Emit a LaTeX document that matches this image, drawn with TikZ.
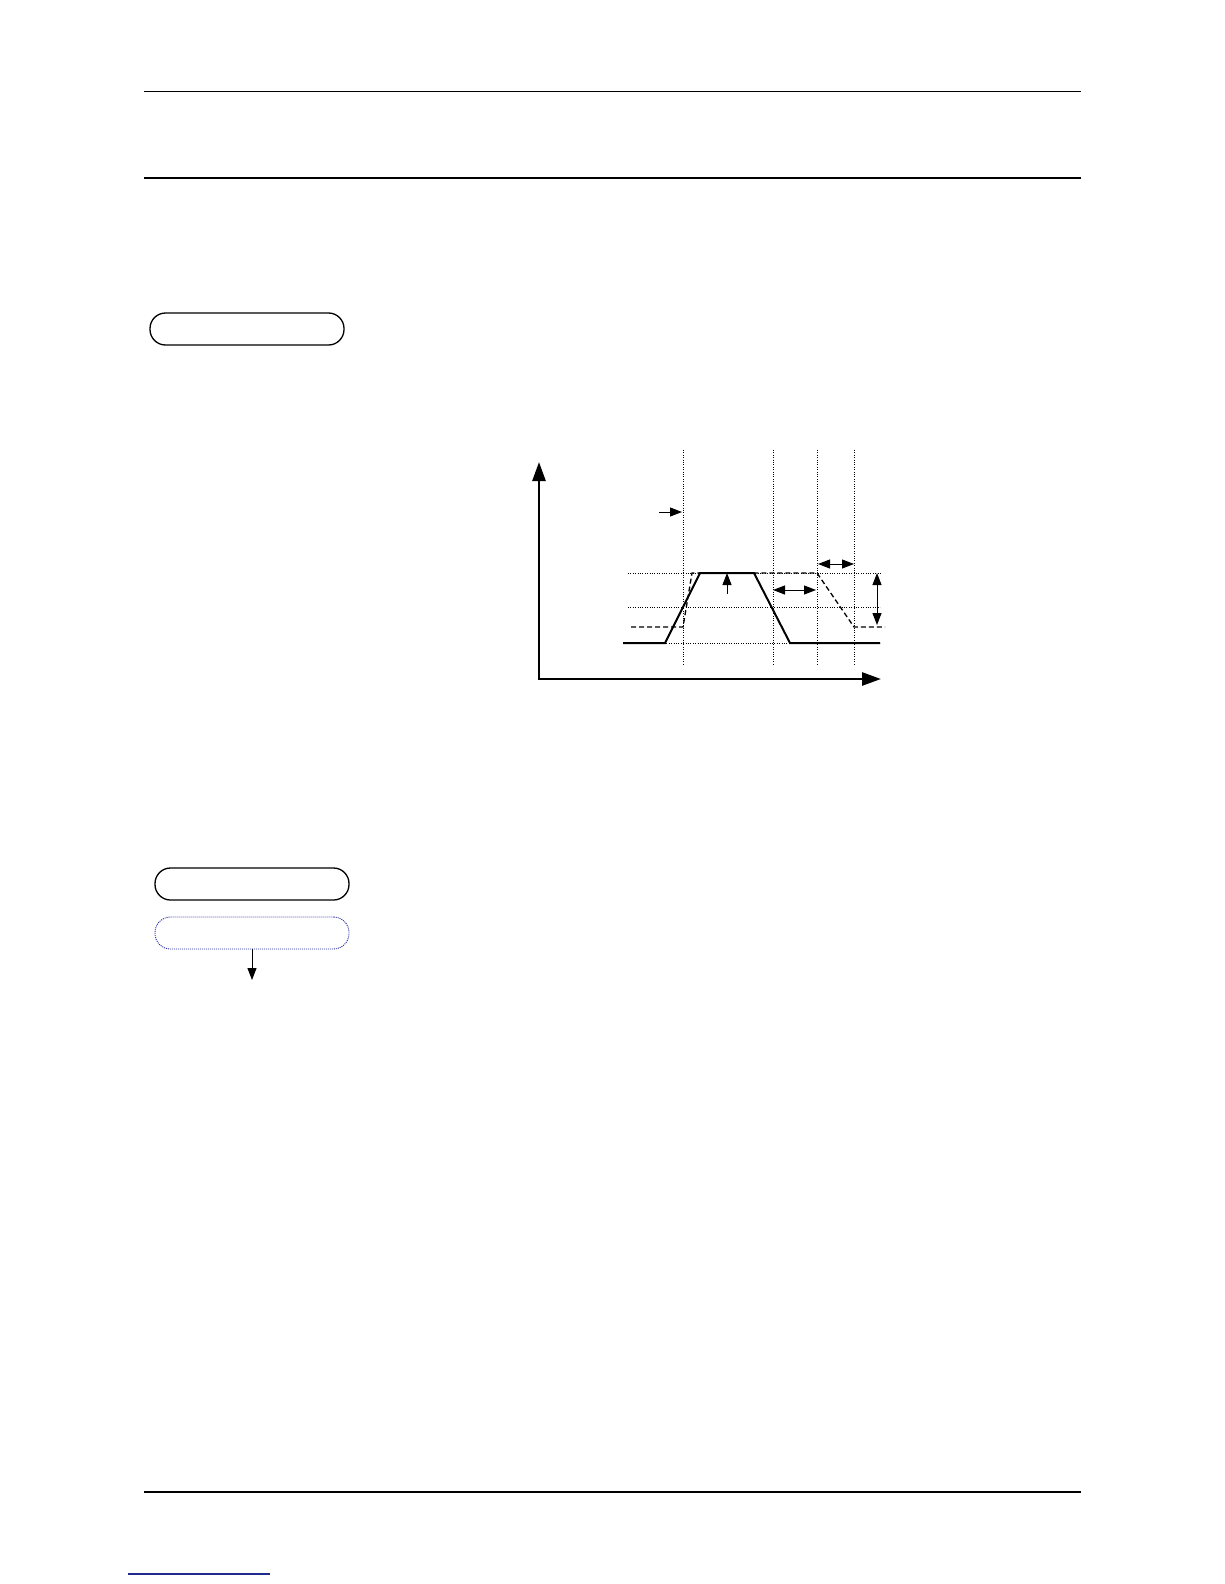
\documentclass[tikz,border=0pt]{standalone}
\usepackage{tikz}
\usetikzlibrary{arrows.meta, positioning}
\tikzset{>={Triangle[length=12pt,width=9pt]}}
\definecolor{linkblue}{HTML}{1F2A8C}
\definecolor{boxblue}{HTML}{2A2AA8}
\tikzset{
  pill/.style={draw, line width=1.3pt, rounded corners=15.5pt, minimum width=194pt, minimum height=32pt, inner sep=0pt},
  guide/.style={line width=0.7pt, dash pattern=on 0.8pt off 1.6pt},
  dimarrow/.style={line width=1pt}
}

\begin{document}
\begin{tikzpicture}[x=1pt,y=-1pt]
	\useasboundingbox (0,0) rectangle (1224,1584);
	% page rules
	\draw [line width=1pt] (144,92) -- (1081,92);
	\draw [line width=2.4pt] (144,178) -- (1081,178);
	\draw [line width=1.2pt] (144,1492) -- (1081,1492);
	\draw [line width=1.4pt,color=linkblue] (128,1574) -- (270,1574);
	% boxes
	\node [pill] (first) at (247,329) {};
	\node [pill] (second) at (252,884) {};
	\node [pill, draw=boxblue, line width=0.9pt, dash pattern=on 1pt off 1pt] (third) at (252,933) {};
	\coordinate (down) at (252,980);
	\draw [dimarrow,->] (third) -- (down);
	% chart
	\draw [line width=2.6pt, {Triangle[length=19pt,width=13pt]}-{Triangle[length=19pt,width=13pt]}] (539,462) -- (539,679) -- (881,679);
	\foreach \xx in {683,773,817,854}
		\draw [guide] (\xx,450) -- (\xx,665);
	\draw [guide] (628,573) -- (882,573);
	\draw [guide] (628,607) -- (880,607);
	\draw [guide] (628,643) -- (880,643);
	\draw [line width=2pt] (623,643) -- (665,643) -- (700,573) -- (754,573) -- (790,643) -- (880,643);
	\draw [line width=1.3pt, dash pattern=on 5pt off 3pt] (631,627) -- (683,627) -- (692,573) -- (817,573) -- (854,627) -- (885,627);
	\draw [dimarrow,->] (659,512) -- (682,512);
	\draw [dimarrow,->] (727,594) -- (727,573);
	\draw [dimarrow,<->] (773,590) -- (816,590);
	\draw [dimarrow,<->] (818,564) -- (854,564);
	\draw [dimarrow,<->] (877,573) -- (877,625);
\end{tikzpicture}
\end{document}
